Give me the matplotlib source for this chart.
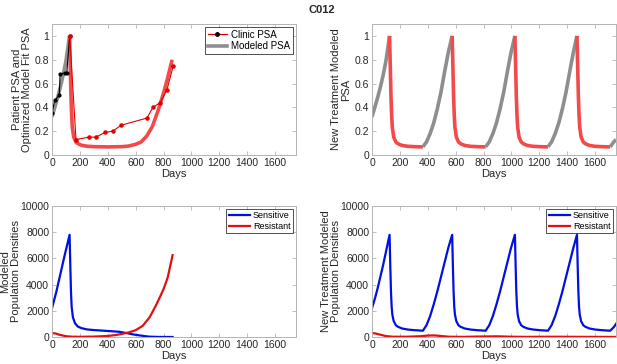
import matplotlib
matplotlib.use("Agg")
import matplotlib.pyplot as plt
from matplotlib.lines import Line2D
import numpy as np

plt.rcParams['font.family'] = ['Liberation Sans', 'DejaVu Sans']
plt.rcParams['font.size'] = 8

# ---- patient fit (first panel) ----
clinic_off_days = [0, 19, 52, 58, 96, 106, 127]
clinic_off_psa = [0.35, 0.46, 0.50, 0.68, 0.69, 0.69, 1.00]
clinic_on_days = [127, 172, 268, 314, 381, 436, 496, 681, 724, 777, 825, 870]
clinic_on_psa = [1.00, 0.13, 0.15, 0.15, 0.19, 0.20, 0.25, 0.31, 0.40, 0.44, 0.55, 0.75]

fit_off_days = [0, 20, 40, 60, 80, 100, 126]
fit_off_psa = [0.32, 0.40, 0.48, 0.57, 0.67, 0.79, 1.00]
fit_on_days = [126, 131, 136, 141, 146, 156, 171, 186, 216, 256, 306, 400, 500,
               550, 600, 640, 680, 720, 760, 800, 830, 862]
fit_on_psa = [1.00, 0.75, 0.50, 0.33, 0.23, 0.15, 0.11, 0.095, 0.08, 0.073, 0.07,
              0.068, 0.07, 0.075, 0.09, 0.11, 0.16, 0.24, 0.37, 0.52, 0.65, 0.80]

fit_pop_days = [0, 30, 60, 90, 126, 131, 136, 141, 150, 165, 185, 210, 250, 300,
                400, 480, 535, 580, 630, 670, 700, 750, 800, 865]
fit_sensitive = [2200, 3400, 4800, 6200, 7800, 5600, 3500, 2300, 1500, 1050, 800,
                 680, 580, 530, 460, 400, 300, 200, 120, 60, 25, 8, 3, 0]
fit_res_days = [0, 25, 50, 100, 150, 200, 300, 400, 450, 500, 550, 600, 650, 700,
                750, 800, 830, 865]
fit_resistant = [300, 270, 180, 60, 20, 15, 30, 80, 140, 230, 350, 520, 850, 1500,
                 2500, 3650, 4550, 6250]

# ---- new treatment schedule (second panel) ----
nt_switch_days = [126, 365, 575, 815, 1025, 1262, 1470, 1708]
nt_days = [0, 20, 40, 60, 80, 100, 126,
           131, 136, 141, 146, 156, 171, 186, 216, 256, 306, 365,
           391, 417, 443, 469, 495, 521, 547, 575,
           580, 585, 590, 595, 605, 620, 635, 665, 705, 755, 815,
           841, 867, 893, 919, 945, 971, 997, 1025,
           1030, 1035, 1040, 1045, 1055, 1070, 1085, 1115, 1155, 1205, 1262,
           1288, 1314, 1340, 1366, 1392, 1418, 1444, 1470,
           1475, 1480, 1485, 1490, 1500, 1515, 1530, 1560, 1600, 1650, 1708,
           1734, 1750]
nt_psa = [0.32, 0.40, 0.48, 0.57, 0.67, 0.79, 1.00,
          0.75, 0.50, 0.33, 0.23, 0.15, 0.11, 0.095, 0.08, 0.073, 0.07, 0.068,
          0.11, 0.18, 0.27, 0.39, 0.53, 0.70, 0.86, 1.00,
          0.75, 0.50, 0.33, 0.23, 0.15, 0.11, 0.095, 0.08, 0.073, 0.07, 0.068,
          0.11, 0.18, 0.27, 0.39, 0.53, 0.70, 0.86, 1.00,
          0.75, 0.50, 0.33, 0.23, 0.15, 0.11, 0.095, 0.08, 0.073, 0.07, 0.068,
          0.11, 0.18, 0.27, 0.39, 0.53, 0.70, 0.86, 1.00,
          0.75, 0.50, 0.33, 0.23, 0.15, 0.11, 0.095, 0.08, 0.073, 0.07, 0.068,
          0.11, 0.13]
nt_sensitive = [2200, 2900, 3700, 4600, 5500, 6500, 7800,
                5500, 3500, 2300, 1700, 1200, 900, 780, 650, 570, 520, 480,
                900, 1600, 2500, 3500, 4600, 5700, 6800, 7800,
                5500, 3500, 2300, 1700, 1200, 900, 780, 650, 570, 520, 480,
                900, 1600, 2500, 3500, 4600, 5700, 6800, 7800,
                5500, 3500, 2300, 1700, 1200, 900, 780, 650, 570, 520, 480,
                900, 1600, 2500, 3500, 4600, 5700, 6800, 7800,
                5500, 3500, 2300, 1700, 1200, 900, 780, 650, 570, 520, 480,
                750, 1000]
nt_res_days = [0, 25, 50, 100, 150, 250, 350, 400, 450, 500, 550, 650, 800, 900,
               1000, 1100, 1300, 1500, 1750]
nt_resistant = [300, 270, 200, 70, 20, 20, 60, 110, 120, 70, 20, 10, 40, 50, 20,
                10, 20, 10, 5]

grey = '#8e8e8e'
lightred = '#f24a4a'
blue = '#0010e0'
red = '#e01010'
spine_col = '#b4b4b4'
txt_col = '#262626'


def style(ax, ymax, yticks, yticklabels, ylabel, label_x):
    ax.set_xlim(0, 1750)
    ax.set_ylim(0, ymax)
    ax.set_xticks(range(0, 1601, 200))
    ax.set_yticks(yticks)
    ax.set_yticklabels(yticklabels)
    ax.tick_params(direction='in', top=True, right=True, length=3, width=0.6,
                   color=spine_col, labelcolor=txt_col, labelsize=7.5, pad=2)
    for s in ax.spines.values():
        s.set_color(spine_col)
        s.set_linewidth(0.7)
    ax.set_xlabel('Days', color=txt_col, fontsize=8, labelpad=1)
    ax.set_ylabel(ylabel, color=txt_col, fontsize=8, linespacing=1.05)
    ax.yaxis.set_label_coords(label_x, 0.5)


def phase_segments(days, vals, switches):
    days = np.asarray(days)
    vals = np.asarray(vals)
    edges = [days[0]] + list(switches) + [days[-1]]
    segs = []
    for i in range(len(edges) - 1):
        m = (days >= edges[i]) & (days <= edges[i + 1])
        segs.append((days[m], vals[m], i % 2 == 1))
    return segs


fig = plt.figure(figsize=(6.17, 3.64), dpi=100)
w, h = 244 / 617, 131 / 364
ax1 = fig.add_axes([52 / 617, 1 - 155 / 364, w, h])
ax2 = fig.add_axes([372 / 617, 1 - 155 / 364, w, h])
ax3 = fig.add_axes([52 / 617, 1 - 337 / 364, w, h])
ax4 = fig.add_axes([372 / 617, 1 - 337 / 364, w, h])

psa_ticks = [0, 0.2, 0.4, 0.6, 0.8, 1]
psa_labels = ['0', '0.2', '0.4', '0.6', '0.8', '1']
pop_ticks = [0, 2000, 4000, 6000, 8000, 10000]
pop_labels = [str(v) for v in pop_ticks]

# panel 1
ax1.plot(fit_off_days, fit_off_psa, color=grey, lw=2.6, solid_capstyle='butt')
ax1.plot(fit_on_days, fit_on_psa, color=lightred, lw=2.6, solid_capstyle='butt')
ax1.plot(clinic_off_days, clinic_off_psa, color='black', lw=0.8, marker='.', ms=4)
ax1.plot(clinic_on_days, clinic_on_psa, color='#e00000', lw=0.8, marker='.', ms=4.5)
style(ax1, 1.1, psa_ticks, psa_labels,
      'Patient PSA and\nOptimized Model Fit PSA', -0.08)
h1 = [Line2D([], [], color='#e00000', lw=0.9, marker='.', ms=5,
             markerfacecolor='black', markeredgecolor='black'),
      Line2D([], [], color=grey, lw=2.6)]
leg = ax1.legend(h1, ['Clinic PSA', 'Modeled PSA'], loc='upper right',
                 fontsize=7, frameon=True, fancybox=False, edgecolor='black',
                 borderpad=0.25, handlelength=2.0, labelspacing=0.15,
                 handletextpad=0.4, borderaxespad=0.35)
leg.get_frame().set_linewidth(0.6)

# panel 2
for d, v, on in phase_segments(nt_days, nt_psa, nt_switch_days):
    ax2.plot(d, v, color=lightred if on else grey, lw=2.6, solid_capstyle='butt')
style(ax2, 1.1, psa_ticks, psa_labels, 'New Treatment Modeled\nPSA', -0.085)

# panel 3
ax3.plot(fit_pop_days, fit_sensitive, color=blue, lw=1.6)
ax3.plot(fit_res_days, fit_resistant, color=red, lw=1.6)
style(ax3, 10000, pop_ticks, pop_labels, 'Modeled\nPopulation Densities', -0.127)

# panel 4
ax4.plot(nt_days, nt_sensitive, color=blue, lw=1.6)
ax4.plot(nt_res_days, nt_resistant, color=red, lw=1.6)
style(ax4, 10000, pop_ticks, pop_labels,
      'New Treatment Modeled\nPopulation Densities', -0.127)

for ax in (ax3, ax4):
    lg = ax.legend(['Sensitive', 'Resistant'], loc='upper right', fontsize=6.5,
                   frameon=True, fancybox=False, edgecolor='black',
                   borderpad=0.25, handlelength=2.4, labelspacing=0.15,
                   handletextpad=0.3, borderaxespad=0.35)
    lg.get_frame().set_linewidth(0.6)

fig.text(322 / 617, 1 - 10 / 364, 'C012', ha='center', va='center',
         fontweight='bold', fontsize=8, color=txt_col)

fig.savefig('out.png', dpi=100)
